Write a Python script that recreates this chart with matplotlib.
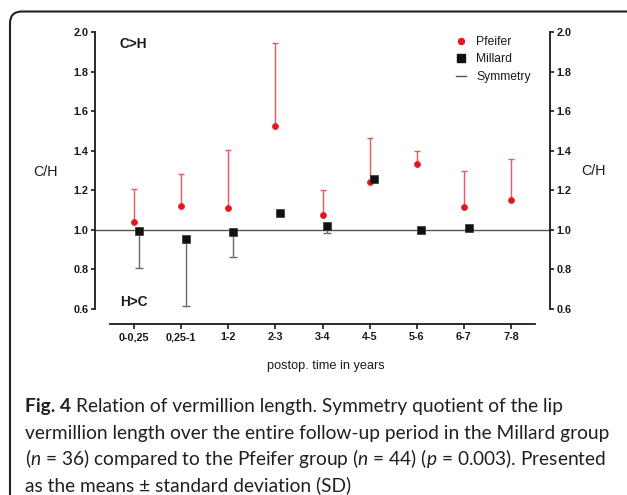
import numpy as np
import matplotlib
matplotlib.use('Agg')
import matplotlib.pyplot as plt
from matplotlib.path import Path
from matplotlib.patches import PathPatch
from matplotlib.lines import Line2D

# ---------------- data ----------------
categories = ['0-0,25', '0,25-1', '1-2', '2-3', '3-4', '4-5', '5-6', '6-7', '7-8']
pfeifer_mean = [1.042, 1.121, 1.108, 1.524, 1.077, 1.241, 1.333, 1.116, 1.151]
pfeifer_sd = [0.162, 0.160, 0.296, 0.419, 0.123, 0.224, 0.064, 0.184, 0.209]
millard_mean = [0.995, 0.955, 0.987, 1.086, 1.017, 1.258, 0.998, 1.007, np.nan]
millard_sd = [0.190, 0.339, 0.123, 0.0, 0.035, 0.0, 0.0, 0.0, np.nan]
symmetry_value = 1.0
y_ticks = [0.6, 0.8, 1.0, 1.2, 1.4, 1.6, 1.8, 2.0]
y_ticklabels = ['0.6', '0.8', '1.0', '1.2', '1.4', '1.6', '1.8', '2.0']
legend_labels = ['Pfeifer', 'Millard', 'Symmetry']

caption_bold = "Fig. 4"
caption_line1 = "Relation of vermillion length. Symmetry quotient of the lip"
caption_line2 = "vermillion length over the entire follow-up period in the Millard group"
caption_line3 = r"($\mathit{n}$ = 36) compared to the Pfeifer group ($\mathit{n}$ = 44) ($\mathit{p}$ = 0.003). Presented"
caption_line4 = "as the means ± standard deviation (SD)"

CAP_FONT = 'Lato'

# ---------------- style ----------------
plt.rcParams['font.family'] = ['Liberation Sans', 'DejaVu Sans']
plt.rcParams['mathtext.fontset'] = 'custom'
plt.rcParams['mathtext.rm'] = CAP_FONT
plt.rcParams['mathtext.it'] = CAP_FONT + ':italic'
plt.rcParams['mathtext.bf'] = CAP_FONT + ':bold'

RED = '#e8141c'
RED_BAR = '#e8585c'
BLACK = '#111111'
GREY_BAR = '#6a6a6a'
SYM = '#555555'
TXT = '#1a1a1a'
CAP_COLOR = '#231f20'

W, H = 627, 495
fig = plt.figure(figsize=(W / 100, H / 100), dpi=100)
fig.patch.set_facecolor('white')


def fx(px):
    return px / W


def fy(py):
    return 1 - py / H


ax_l, ax_r, ax_t, ax_b = 110.4, 534.6, 32.0, 309.0
ax = fig.add_axes([fx(ax_l), fy(ax_b), (ax_r - ax_l) / W, (ax_b - ax_t) / H])
ax.set_facecolor('none')

x = np.arange(len(categories))
ax.set_xlim(-0.5, len(categories) - 0.5)
ax.set_ylim(0.6, 2.0)

# symmetry line spanning between the two detached y spines
off_px = 15.4
ax.axhline(symmetry_value, xmin=-off_px / (ax_r - ax_l), xmax=1 + off_px / (ax_r - ax_l),
           color=SYM, lw=1.0, zorder=1, clip_on=False)

pm = np.array(pfeifer_mean)
ps = np.array(pfeifer_sd)
mm = np.array(millard_mean)
ms = np.array(millard_sd)

# Pfeifer: upper error bars only
eb_p = ax.errorbar(x, pm, yerr=[np.zeros_like(ps), ps], fmt='none', ecolor=RED_BAR,
                   elinewidth=1.0, capsize=2.4, capthick=1.0, zorder=2)
eb_p[1][0].set_visible(False)
# Millard: lower error bars only
xm = x + 0.1
eb_m = ax.errorbar(xm, mm, yerr=[ms, np.zeros_like(ms)], fmt='none', ecolor=GREY_BAR,
                   elinewidth=1.0, capsize=2.9, capthick=1.0, zorder=2)
eb_m[1][1].set_visible(False)

ax.plot(x, pm, 'o', color=RED, ms=4.3, mec=RED, mew=0.5, ls='none', zorder=4)
ax.plot(xm, mm, 's', color=BLACK, ms=5.4, mec='#333333', mew=0.5, ls='none', zorder=4)

# spines
ax.spines['top'].set_visible(False)
for s in ['left', 'right']:
    ax.spines[s].set_position(('outward', off_px * 0.72))
    ax.spines[s].set_linewidth(1.3)
    ax.spines[s].set_color(TXT)
ax.spines['bottom'].set_position(('outward', 15 * 0.72))
ax.spines['bottom'].set_linewidth(1.3)
ax.spines['bottom'].set_color(TXT)

ax.set_xticks(x, labels=categories, fontweight='bold', fontsize=7.8, color=TXT)
ax.set_yticks(y_ticks, labels=y_ticklabels, fontweight='bold', fontsize=7.8, color=TXT)
ax.tick_params(axis='y', left=True, right=True, labelleft=True, labelright=True,
               direction='out', length=3, width=1.2, pad=1.5, color=TXT)
ax.tick_params(axis='x', direction='out', length=3.5, width=1.2, pad=2.5, color=TXT)

# annotations
fig.text(fx(119), fy(44), 'C>H', fontsize=9.8, fontweight='bold', va='center', ha='left', color=TXT)
fig.text(fx(120), fy(302), 'H>C', fontsize=9.8, fontweight='bold', va='center', ha='left', color=TXT)
fig.text(fx(45), fy(172), 'C/H', fontsize=10.3, va='center', ha='center', color=TXT)
fig.text(fx(594), fy(171), 'C/H', fontsize=10.3, va='center', ha='center', color=TXT)
fig.text(fx(326), fy(366), 'postop. time in years', fontsize=9.2, va='center', ha='center', color=TXT)

# legend
handles = [Line2D([], [], marker='o', color=RED, ls='none', ms=4.3),
           Line2D([], [], marker='s', color=BLACK, ls='none', ms=5.4),
           Line2D([], [], color=SYM, lw=1.0)]
fig.legend(handles, legend_labels, loc='upper left', bbox_to_anchor=(fx(456), fy(36)),
           frameon=False, fontsize=8.7, handlelength=0.85, handletextpad=0.8,
           labelspacing=0.45, borderpad=0, borderaxespad=0, labelcolor=TXT)

# frame of the figure panel (rounded top-left corner)
r = 12
verts = [(fx(10), fy(500)), (fx(10), fy(11.5 + r)), (fx(10), fy(11.5)), (fx(10 + r), fy(11.5)),
         (fx(630), fy(11.5))]
codes = [Path.MOVETO, Path.LINETO, Path.CURVE3, Path.CURVE3, Path.LINETO]
fig.add_artist(PathPatch(Path(verts, codes), transform=fig.transFigure, fill=False,
                         lw=1.5, edgecolor='#222222', clip_on=False))

# caption, font size fitted to the measured width of line 2
renderer = fig.canvas.get_renderer()
probe = fig.text(0, 0, caption_line2, fontsize=12, family=CAP_FONT)
w = probe.get_window_extent(renderer).width
probe.remove()
cap_fs = 12 * 582.0 / w
cap_x = fx(25)
baselines = [412, 438.5, 465, 491]

# line 1: bold "Fig. 4" followed by regular text
t_bold = fig.text(cap_x, fy(baselines[0]), caption_bold, fontsize=cap_fs, family=CAP_FONT,
                  fontweight='bold', va='baseline', ha='left', color=CAP_COLOR)
bw = t_bold.get_window_extent(renderer).width
sp = fig.text(0, 0, 'a a', fontsize=cap_fs, family=CAP_FONT)
sw = sp.get_window_extent(renderer).width
sp.remove()
sp2 = fig.text(0, 0, 'aa', fontsize=cap_fs, family=CAP_FONT)
sw2 = sp2.get_window_extent(renderer).width
sp2.remove()
space_px = sw - sw2
fig.text(cap_x + (bw + space_px) / W, fy(baselines[0]), caption_line1, fontsize=cap_fs,
         family=CAP_FONT, va='baseline', ha='left', color=CAP_COLOR)

for line, base in zip([caption_line2, caption_line3, caption_line4], baselines[1:]):
    fig.text(cap_x, fy(base), line, fontsize=cap_fs, family=CAP_FONT, va='baseline',
             ha='left', color=CAP_COLOR)

fig.savefig('out.png', dpi=100)
